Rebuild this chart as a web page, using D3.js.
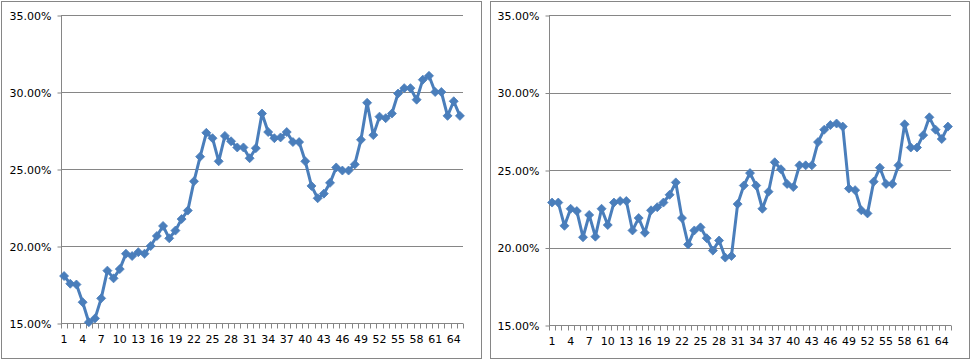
<!DOCTYPE html>
<html>
<head>
<meta charset="utf-8">
<script src="https://cdn.jsdelivr.net/npm/d3@7"></script>
<style>
  html, body { margin: 0; padding: 0; background: #fff; }
  svg { display: block; }
  text { font-family: "DejaVu Sans", Verdana, sans-serif; font-size: 11px; fill: #000; }
</style>
</head>
<body>
<svg id="chart" width="971" height="360"></svg>
<script>
// ---- data ----
const categories = d3.range(1, 66);               // 1 .. 65
const yTicks = [15, 20, 25, 30, 35];               // percent
const xLabelEvery = 3;                             // 1, 4, 7, ... 64

const leftValues = [
  18.05, 17.55, 17.5, 16.35, 15.05, 15.3, 16.6, 18.4, 17.9, 18.5,
  19.5, 19.35, 19.6, 19.5, 20.0, 20.65, 21.3, 20.5, 21.0, 21.75,
  22.3, 24.2, 25.8, 27.35, 27.0, 25.5, 27.15, 26.8, 26.4, 26.4,
  25.7, 26.35, 28.6, 27.4, 27.0, 27.05, 27.4, 26.75, 26.75, 25.5,
  23.9, 23.1, 23.4, 24.1, 25.1, 24.9, 24.9, 25.3, 26.9, 29.3,
  27.2, 28.4, 28.3, 28.6, 29.9, 30.25, 30.25, 29.5, 30.8, 31.05,
  30.0, 30.0, 28.45, 29.4, 28.45
];

const rightValues = [
  22.9, 22.9, 21.4, 22.5, 22.35, 20.66, 22.1, 20.7, 22.5, 21.45,
  22.9, 23.0, 23.0, 21.1, 21.9, 20.95, 22.4, 22.6, 22.9, 23.4,
  24.2, 21.9, 20.2, 21.1, 21.3, 20.6, 19.8, 20.45, 19.35, 19.45,
  22.8, 24.0, 24.8, 24.0, 22.5, 23.6, 25.5, 25.05, 24.1, 23.9,
  25.3, 25.3, 25.3, 26.8, 27.6, 27.9, 28.0, 27.8, 23.8, 23.7,
  22.4, 22.2, 24.25, 25.15, 24.1, 24.1, 25.3, 27.95, 26.45, 26.45,
  27.25, 28.4, 27.6, 27.0, 27.8
];

// ---- layout ----
const panels = [
  { values: leftValues,  frame: [1.5, 1.5, 480, 357], x0: 61,  x1: 463, top: 15, bottom: 323 },
  { values: rightValues, frame: [490.5, 1.5, 479, 357], x0: 549, x1: 951, top: 15, bottom: 325 }
];

const lineColor = "#4a7ebb";
const axisColor = "#868686";
const svg = d3.select("#chart");
const crisp = v => Math.round(v) + 0.5;

panels.forEach(p => {
  const g = svg.append("g");

  // outer frame
  g.append("rect")
    .attr("x", p.frame[0]).attr("y", p.frame[1])
    .attr("width", p.frame[2]).attr("height", p.frame[3])
    .attr("fill", "#fff").attr("stroke", axisColor).attr("stroke-width", 1);

  const x = d3.scaleBand().domain(categories).range([p.x0, p.x1]).padding(0);
  const y = d3.scaleLinear().domain([15, 35]).range([p.bottom, p.top]);

  // gridlines
  g.append("g").selectAll("line")
    .data(yTicks.filter(t => t !== 15))
    .join("line")
    .attr("x1", p.x0).attr("x2", p.x1)
    .attr("y1", d => crisp(y(d))).attr("y2", d => crisp(y(d)))
    .attr("stroke", axisColor).attr("stroke-width", 1);

  // y axis
  const yAxis = d3.axisLeft(y)
    .tickValues(yTicks)
    .tickFormat(d => d.toFixed(2) + "%")
    .tickSize(4).tickPadding(6);
  const ya = g.append("g")
    .attr("transform", `translate(${crisp(p.x0)},0.5)`)
    .call(yAxis);
  ya.select(".domain").attr("stroke", axisColor).attr("d", `M0,${y(35)}V${y(15)}`);
  ya.selectAll(".tick line").attr("stroke", axisColor);
  ya.selectAll("text").style("font-family", '"DejaVu Sans", Verdana, sans-serif').style("font-size", "11px").attr("fill", "#000");

  // x axis line
  g.append("line")
    .attr("x1", p.x0).attr("x2", p.x1)
    .attr("y1", crisp(y(15))).attr("y2", crisp(y(15)))
    .attr("stroke", axisColor);

  // x tick marks at category boundaries
  const bounds = categories.map(c => x(c)).concat([x(categories[categories.length - 1]) + x.bandwidth()]);
  g.append("g").selectAll("line")
    .data(bounds)
    .join("line")
    .attr("x1", d => crisp(d)).attr("x2", d => crisp(d))
    .attr("y1", crisp(y(15))).attr("y2", crisp(y(15)) + 5)
    .attr("stroke", axisColor);

  // x labels
  const xAxis = d3.axisBottom(x)
    .tickValues(categories.filter((c, i) => i % xLabelEvery === 0))
    .tickSize(0).tickPadding(12);
  const xa = g.append("g")
    .attr("transform", `translate(0,${crisp(y(15))})`)
    .call(xAxis);
  xa.select(".domain").remove();
  xa.selectAll("text").style("font-family", '"DejaVu Sans", Verdana, sans-serif').style("font-size", "11px").attr("fill", "#000");

  // line
  const cx = (d, i) => x(categories[i]) + x.bandwidth() / 2;
  const line = d3.line().x(cx).y(d => y(d));
  g.append("path")
    .datum(p.values)
    .attr("d", line)
    .attr("fill", "none")
    .attr("stroke", lineColor)
    .attr("stroke-width", 3)
    .attr("stroke-linejoin", "round");

  // diamond markers
  g.append("g").selectAll("path")
    .data(p.values)
    .join("path")
    .attr("transform", (d, i) => `translate(${cx(d, i)},${y(d)})`)
    .attr("d", "M0,-4.5L4.5,0L0,4.5L-4.5,0Z")
    .attr("fill", lineColor)
    .attr("stroke", lineColor)
    .attr("stroke-width", 0.8);
});
</script>
</body>
</html>
